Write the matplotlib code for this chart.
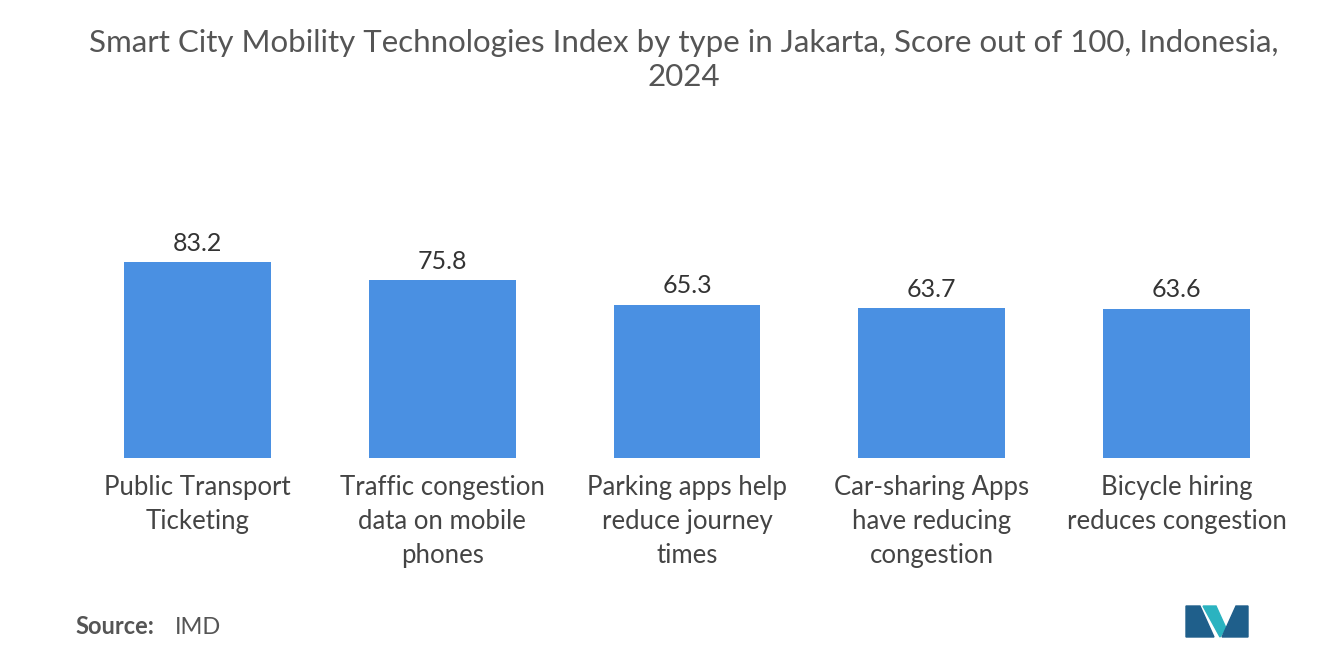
import matplotlib.pyplot as plt
from matplotlib.patches import Polygon

categories = ['Public Transport\nTicketing', 'Traffic congestion\ndata on mobile\nphones',
              'Parking apps help\nreduce journey\ntimes', 'Car-sharing Apps\nhave reducing\ncongestion',
              'Bicycle hiring\nreduces congestion']
values = [83.2, 75.8, 65.3, 63.7, 63.6]

plt.rcParams['font.family'] = 'Lato'
fig = plt.figure(figsize=(13.2, 6.65), dpi=100)
ax = fig.add_axes([75/1320, 1 - 458/665, 1224/1320, 235/665])

x = range(len(values))
ax.bar(x, values, width=0.6, color='#4a90e2')
for i, v in zip(x, values):
    ax.text(i, v + 3, f'{v}', ha='center', va='bottom', fontsize=18, color='#333333')

ax.set_xlim(-0.5, len(values) - 0.5)
ax.set_ylim(0, 100)
ax.set_yticks([])
ax.set_xticks(list(x))
ax.set_xticklabels(categories, fontsize=18.5, color='#444444', linespacing=1.45)
ax.tick_params(axis='x', length=0, pad=12)
for s in ax.spines.values():
    s.set_visible(False)

fig.text(0.518, 1 - 60/665, 'Smart City Mobility Technologies Index by type in Jakarta, Score out of 100, Indonesia,\n2024',
         ha='center', va='center', fontsize=22.5, color='#555555', linespacing=1.3)
fig.text(75/1320, 1 - 627/665, 'Source:', fontsize=17, color='#555555', fontweight='bold', va='center')
fig.text(175/1320, 1 - 627/665, 'IMD', fontsize=17, color='#555555', va='center')

# logo
def px(xp, yp):
    return (xp / 1320, 1 - yp / 665)
logo = [
    ([(1186, 637), (1186, 606), (1200, 606), (1214, 637)], '#1f5f8b'),
    ([(1203, 606), (1216, 606), (1226, 628), (1220, 637)], '#2bb3c0'),
    ([(1222, 637), (1236, 606), (1248, 606), (1248, 637)], '#1f5f8b'),
]
for pts, c in logo:
    fig.patches.append(Polygon([px(*p) for p in pts], closed=True, color=c, transform=fig.transFigure))

fig.savefig('out.png', dpi=100, facecolor='white')
